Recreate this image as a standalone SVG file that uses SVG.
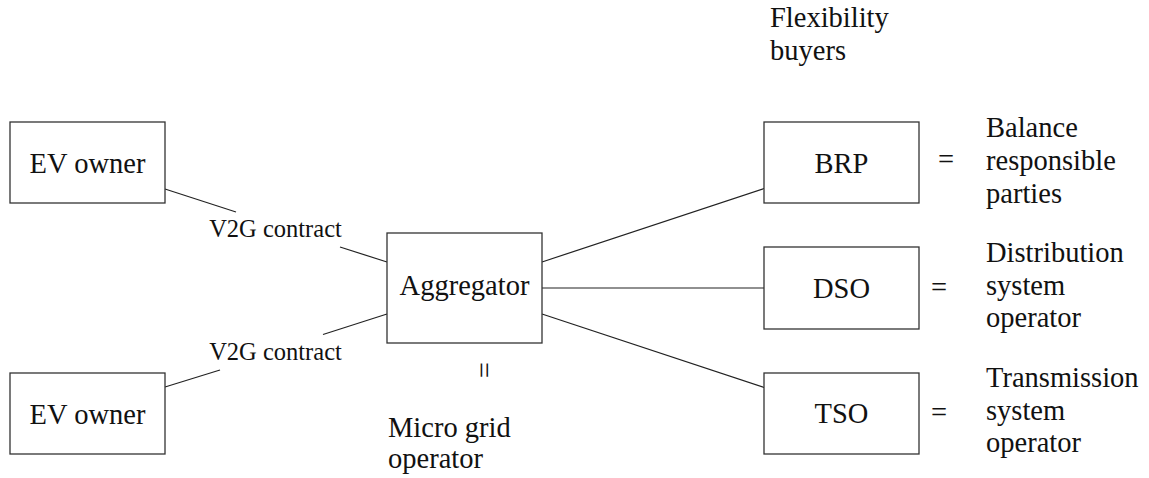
<svg xmlns="http://www.w3.org/2000/svg" width="1149" height="478" viewBox="0 0 1149 478" font-family="Liberation Serif, DejaVu Serif, serif">
<style>
.box{fill:#fff;stroke:#333;stroke-width:1.3}
.t{font-size:28.5px;fill:#111}
.c{text-anchor:middle}
.s{font-size:24.5px;fill:#111;text-anchor:middle}
.ln{stroke:#222;stroke-width:1.2;fill:none}
</style>
<rect width="1149" height="478" fill="#fff"/>
<g id="connectors">
<line class="ln" x1="165" y1="189" x2="236" y2="212"/>
<line class="ln" x1="340" y1="247" x2="387" y2="262"/>
<line class="ln" x1="165" y1="387" x2="220" y2="370"/>
<line class="ln" x1="323" y1="334.5" x2="387" y2="314"/>
<line class="ln" x1="542" y1="262" x2="764" y2="188.5"/>
<line class="ln" x1="542" y1="288" x2="764" y2="288"/>
<line class="ln" x1="542" y1="314" x2="764" y2="387.5"/>
<text class="s" x="275.5" y="237">V2G contract</text>
<text class="s" x="275.5" y="360">V2G contract</text>
</g>
<g id="ev1">
<rect class="box" x="10" y="122" width="155" height="81"/>
<text class="t c" x="87.5" y="172.5">EV owner</text>
</g>
<g id="ev2">
<rect class="box" x="10" y="373" width="155" height="81"/>
<text class="t c" x="87.5" y="423.5">EV owner</text>
</g>
<g id="aggregator">
<rect class="box" x="387" y="233" width="155" height="110"/>
<text class="t c" x="464.5" y="295">Aggregator</text>
<text class="t c" x="481.5" y="378" transform="rotate(90 481.5 370)">=</text>
<text class="t" x="388" y="436.5">Micro grid</text>
<text class="t" x="388" y="468">operator</text>
</g>
<g id="buyers">
<text class="t" x="770" y="26.5">Flexibility</text>
<text class="t" x="770" y="59.5">buyers</text>
</g>
<g id="brp">
<rect class="box" x="764" y="122" width="155" height="81"/>
<text class="t c" x="841.5" y="172.5">BRP</text>
<text class="t c" x="946" y="169">=</text>
<text class="t" x="986" y="136.5">Balance</text>
<text class="t" x="986" y="169.5">responsible</text>
<text class="t" x="986" y="202.5">parties</text>
</g>
<g id="dso">
<rect class="box" x="764" y="247" width="155" height="82"/>
<text class="t c" x="841.5" y="298">DSO</text>
<text class="t c" x="939" y="297">=</text>
<text class="t" x="986" y="261.5">Distribution</text>
<text class="t" x="986" y="294.5">system</text>
<text class="t" x="986" y="327">operator</text>
</g>
<g id="tso">
<rect class="box" x="764" y="373" width="155" height="81"/>
<text class="t c" x="841.5" y="423">TSO</text>
<text class="t c" x="939" y="421.5">=</text>
<text class="t" x="986" y="386.5">Transmission</text>
<text class="t" x="986" y="419.5">system</text>
<text class="t" x="986" y="451.5">operator</text>
</g>
</svg>
